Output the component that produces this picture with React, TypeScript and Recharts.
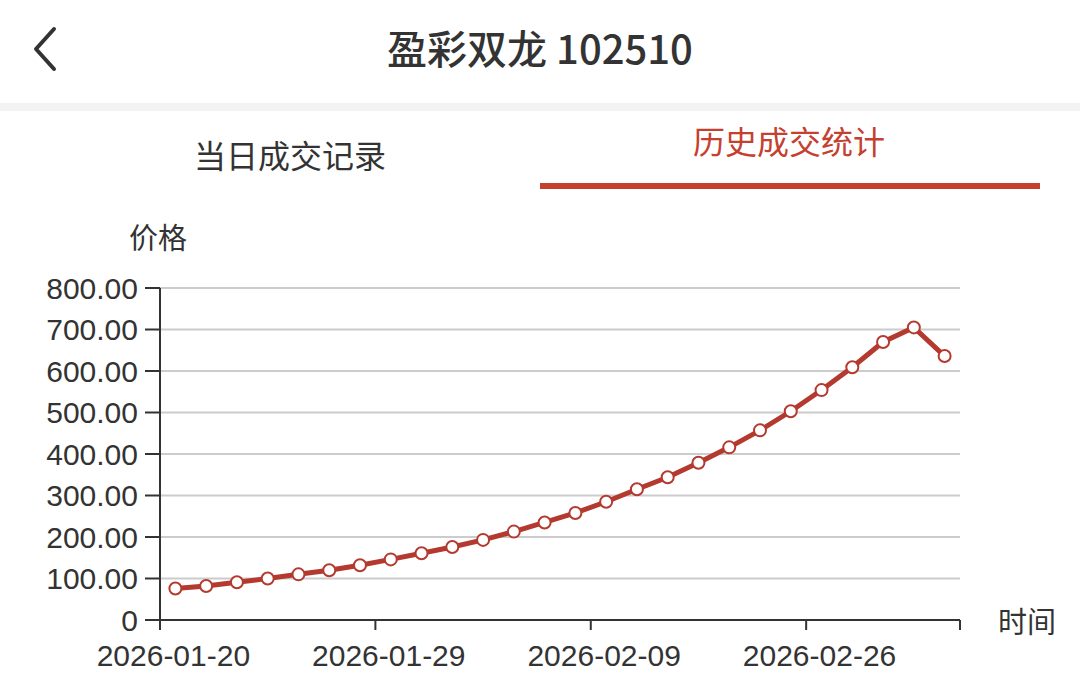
import { LineChart, Line, XAxis, YAxis, CartesianGrid } from 'recharts';

// trading days and closing prices
const dates = [
  '2026-01-20', '2026-01-21', '2026-01-22', '2026-01-23', '2026-01-26', '2026-01-27',
  '2026-01-28', '2026-01-29', '2026-01-30', '2026-02-02', '2026-02-03', '2026-02-04',
  '2026-02-05', '2026-02-06', '2026-02-09', '2026-02-10', '2026-02-11', '2026-02-12',
  '2026-02-13', '2026-02-24', '2026-02-25', '2026-02-26', '2026-02-27', '2026-03-02',
  '2026-03-03', '2026-03-04',
];
const prices = [
  76, 82, 91, 100, 110, 120, 132, 146, 161, 176, 193, 213, 235, 258, 285, 315, 344, 379,
  416, 457, 503, 554, 609, 670, 705, 636,
];
const yTicks = [0, 100, 200, 300, 400, 500, 600, 700, 800];

const title = '盈彩双龙 102510';
const tabs = ['当日成交记录', '历史成交统计'];

const colors = {
  line: '#b43a30',
  tab: '#c4402f',
  text: '#333333',
  axis: '#333333',
  grid: '#cccccc',
  band: '#f3f3f3',
};

const CJK = '"Noto Sans CJK SC", "Noto Sans", sans-serif';
const NUM = '"Liberation Sans", Arial, sans-serif';

const CHART_W = 1080;
const CHART_H = 492;
const PLOT_LEFT = 160;
const PLOT_RIGHT = 120;
const PLOT_W = CHART_W - PLOT_LEFT - PLOT_RIGHT;
const X_TICK_SIZE = 10;
const X_TICK_MARGIN = 17;

const chartData = dates.map((d, i) => ({ date: d, price: prices[i] }));

// echarts-like x tick: mark on the band boundary, label in the band centre
function XTick(props: any) {
  const { x, y, payload } = props;
  const bw = PLOT_W / dates.length;
  const axisY = y - X_TICK_SIZE - X_TICK_MARGIN;
  const left = x - bw / 2;
  return (
    <g>
      <line x1={left} y1={axisY} x2={left} y2={axisY + X_TICK_SIZE} stroke={colors.axis} strokeWidth={2} />
      {payload.value === dates[0] && (
        <line
          x1={left + PLOT_W}
          y1={axisY}
          x2={left + PLOT_W}
          y2={axisY + X_TICK_SIZE}
          stroke={colors.axis}
          strokeWidth={2}
        />
      )}
      <text
        x={x - 2}
        y={y + 19}
        textAnchor="middle"
        fill={colors.text}
        fontSize={30}
        fontFamily={NUM}
      >
        {payload.value}
      </text>
    </g>
  );
}

export default function App() {
  return (
    <div
      style={{
        position: 'absolute',
        left: 0,
        top: 0,
        width: 1080,
        height: 692,
        background: '#fff',
        fontFamily: CJK,
        color: colors.text,
        overflow: 'hidden',
      }}
    >
      {/* header */}
      <svg style={{ position: 'absolute', left: 28, top: 26 }} width={34} height={46}>
        <polyline points="26,3 8,23 26,43" fill="none" stroke={colors.text} strokeWidth={4} strokeLinecap="round" strokeLinejoin="round" />
      </svg>
      <div
        style={{
          position: 'absolute',
          top: 47,
          left: 540,
          transform: 'translate(-50%, -50%)',
          fontSize: 40,
          lineHeight: 1,
          fontWeight: 500,
          whiteSpace: 'nowrap',
        }}
      >
        {title}
      </div>
      <div style={{ position: 'absolute', top: 103, left: 0, width: 1080, height: 8, background: colors.band }} />

      {/* tabs */}
      <div
        style={{
          position: 'absolute',
          top: 154,
          left: 290,
          transform: 'translate(-50%, -50%)',
          fontSize: 32,
          lineHeight: 1,
          whiteSpace: 'nowrap',
        }}
      >
        {tabs[0]}
      </div>
      <div
        style={{
          position: 'absolute',
          top: 140,
          left: 789,
          transform: 'translate(-50%, -50%)',
          fontSize: 32,
          lineHeight: 1,
          color: colors.tab,
          whiteSpace: 'nowrap',
        }}
      >
        {tabs[1]}
      </div>
      <div style={{ position: 'absolute', top: 183, left: 540, width: 500, height: 6, background: colors.tab }} />

      {/* axis names */}
      <div style={{ position: 'absolute', top: 236, left: 158, transform: 'translate(-50%, -50%)', fontSize: 29, lineHeight: 1, whiteSpace: 'nowrap' }}>
        价格
      </div>
      <div style={{ position: 'absolute', top: 620, left: 1027, transform: 'translate(-50%, -50%)', fontSize: 29, lineHeight: 1, whiteSpace: 'nowrap' }}>
        时间
      </div>

      <div style={{ position: 'absolute', top: 200, left: 0 }}>
        <LineChart
          width={CHART_W}
          height={CHART_H}
          data={chartData}
          margin={{ top: 88, right: PLOT_RIGHT, left: 0, bottom: 32 }}
        >
          <CartesianGrid horizontal vertical={false} stroke={colors.grid} strokeWidth={2} />
          <XAxis
            dataKey="date"
            scale="band"
            interval={6}
            height={40}
            tickLine={false}
            tickSize={X_TICK_SIZE}
            tickMargin={X_TICK_MARGIN}
            axisLine={{ stroke: colors.axis, strokeWidth: 2 }}
            tick={<XTick />}
          />
          <YAxis
            width={PLOT_LEFT}
            domain={[0, 800]}
            ticks={yTicks}
            interval={0}
            tickSize={15}
            tickMargin={7}
            tickFormatter={(v: number) => (v === 0 ? '0' : v.toFixed(2))}
            tick={{ fill: colors.text, fontSize: 30, fontFamily: NUM }}
            tickLine={{ stroke: colors.axis, strokeWidth: 2 }}
            axisLine={{ stroke: colors.axis, strokeWidth: 2 }}
          />
          <Line
            type="linear"
            dataKey="price"
            stroke={colors.line}
            strokeWidth={5}
            dot={{ r: 6, fill: '#fff', stroke: colors.line, strokeWidth: 2 }}
            isAnimationActive={false}
          />
        </LineChart>
      </div>
    </div>
  );
}
